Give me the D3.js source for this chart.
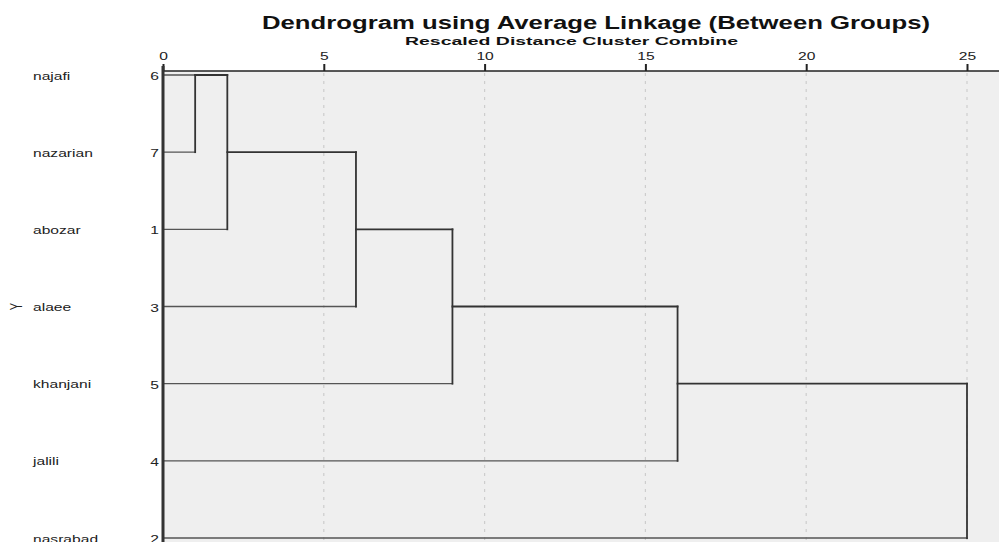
<!DOCTYPE html>
<html>
<head>
<meta charset="utf-8">
<script src="https://cdn.jsdelivr.net/npm/d3@7"></script>
<style>
  body { margin: 0; background: #fff; }
  svg { display: block; font-family: "Liberation Sans", Arial, sans-serif; }
</style>
</head>
<body>
<div id="chart"></div>
<script>
// leaves in dendrogram order, with their case numbers
const leafNames = ['najafi', 'nazarian', 'abozar', 'alaee', 'khanjani', 'jalili', 'nasrabad'];
const caseNumbers = [6, 7, 1, 3, 5, 4, 2];

// each merge joins the running cluster with the next leaf (chain)
const mergeLeaf = [1, 2, 3, 4, 5, 6];
const mergeDistance = [1, 2, 6, 9, 16, 25];

const xTicks = [0, 5, 10, 15, 20, 25];

const width = 999;
const height = 542;
const stretch = 1.42; // the reference text is wide, stretch glyphs horizontally

const svg = d3.select('#chart')
    .append('svg')
    .attr('width', width)
    .attr('height', height);

const plotLeft = 163;
const plotTop = 71;

const x = d3.scaleLinear().domain([0, 25]).range([plotLeft, 967]);
const y = d3.scalePoint().domain(d3.range(leafNames.length)).range([75, 538]);

// plot background
svg.append('rect')
    .attr('x', plotLeft)
    .attr('y', plotTop)
    .attr('width', width - plotLeft)
    .attr('height', height - plotTop)
    .attr('fill', '#efefef');

// dashed grid lines
svg.append('g')
    .selectAll('line')
    .data(xTicks.filter(d => d > 0))
    .enter().append('line')
    .attr('x1', d => x(d)).attr('x2', d => x(d))
    .attr('y1', plotTop + 2).attr('y2', height)
    .attr('stroke', '#cdcdcd')
    .attr('stroke-width', 1.2)
    .attr('stroke-dasharray', '3,5');

// top axis
const axis = d3.axisTop(x).tickValues(xTicks).tickSize(7).tickSizeOuter(0).tickPadding(4);
const axisG = svg.append('g')
    .attr('transform', `translate(0,${plotTop})`)
    .call(axis);
axisG.select('.domain').attr('stroke', '#222').attr('stroke-width', 1.3).attr('d', `M${plotLeft},0H${width}`);
axisG.selectAll('.tick line').attr('stroke', '#222').attr('stroke-width', 2);
axisG.selectAll('.tick text')
    .attr('fill', '#222')
    .attr('transform', `scale(${stretch},1)`)
    .style('font-size', '11px')
    .style('font-family', '"Liberation Sans", Arial, sans-serif');

// titles
svg.append('text')
    .attr('x', 262).attr('y', 29)
    .style('font-size', '18px').style('font-weight', 'bold')
    .attr('fill', '#111')
    .attr('textLength', 668)
    .attr('lengthAdjust', 'spacingAndGlyphs')
    .text('Dendrogram using Average Linkage (Between Groups)');

svg.append('text')
    .attr('x', 405).attr('y', 45)
    .style('font-size', '11px').style('font-weight', 'bold')
    .attr('fill', '#111')
    .attr('textLength', 333)
    .attr('lengthAdjust', 'spacingAndGlyphs')
    .text('Rescaled Distance Cluster Combine');

// row labels
svg.append('g')
    .selectAll('text')
    .data(leafNames)
    .enter().append('text')
    .attr('transform', (d, i) => `translate(33,${y(i) + 4.5}) scale(${stretch},1)`)
    .style('font-size', '11px')
    .attr('fill', '#222')
    .text(d => d);

svg.append('g')
    .selectAll('text')
    .data(caseNumbers)
    .enter().append('text')
    .attr('transform', (d, i) => `translate(159,${y(i) + 5}) scale(${stretch},1)`)
    .attr('text-anchor', 'end')
    .style('font-size', '11px')
    .attr('fill', '#222')
    .text(d => d);

// y axis title
svg.append('text')
    .attr('transform', `translate(22,${y(3)}) rotate(-90) scale(1,${stretch})`)
    .attr('text-anchor', 'middle')
    .style('font-size', '11px')
    .attr('fill', '#222')
    .text('Y');

// build dendrogram segments
const segments = [];
// first merge distance for each leaf
const leafEnd = leafNames.map((d, i) => {
    if (i === 0) return mergeDistance[0];
    return mergeDistance[mergeLeaf.indexOf(i)];
});
leafNames.forEach((d, i) => {
    segments.push({ x1: 0, y1: i, x2: leafEnd[i], y2: i, leaf: true });
});

let clusterPos = 0;
mergeDistance.forEach((h, k) => {
    const leaf = mergeLeaf[k];
    segments.push({ x1: h, y1: clusterPos, x2: h, y2: leaf, leaf: false });
    const newPos = Math.floor((clusterPos + leaf) / 2);
    if (k < mergeDistance.length - 1) {
        segments.push({ x1: h, y1: newPos, x2: mergeDistance[k + 1], y2: newPos, leaf: false });
    }
    clusterPos = newPos;
});

svg.append('g')
    .selectAll('line')
    .data(segments)
    .enter().append('line')
    .attr('x1', d => x(d.x1)).attr('x2', d => x(d.x2))
    .attr('y1', d => y(d.y1)).attr('y2', d => y(d.y2))
    .attr('stroke', d => d.leaf ? '#555' : '#333')
    .attr('stroke-width', d => d.leaf ? 1.3 : 1.8)
    .attr('stroke-linecap', 'square');

// left vertical line
svg.append('line')
    .attr('x1', plotLeft).attr('x2', plotLeft)
    .attr('y1', plotTop - 5).attr('y2', height)
    .attr('stroke', '#333')
    .attr('stroke-width', 3);
</script>
</body>
</html>
